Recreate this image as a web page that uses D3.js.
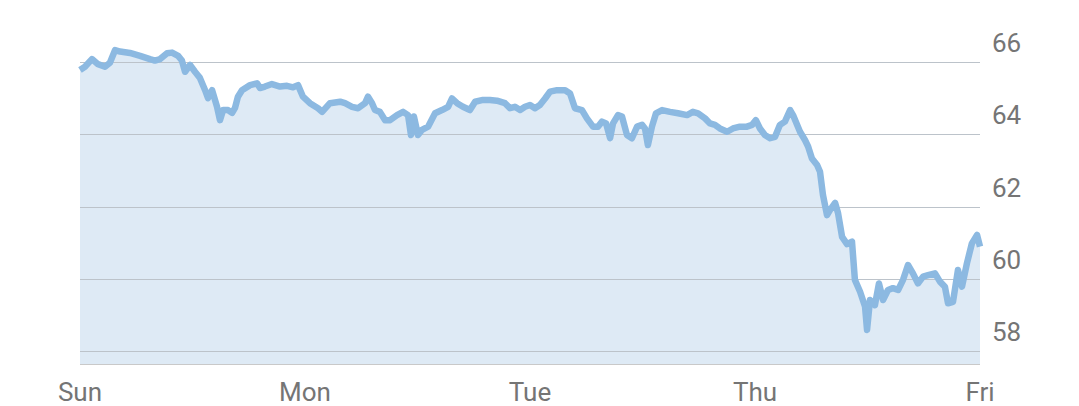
<!DOCTYPE html>
<html>
<head>
<meta charset="utf-8">
<script src="https://cdn.jsdelivr.net/npm/d3@7"></script>
<style>
  html, body { margin: 0; padding: 0; background: #fff; }
  svg { display: block; font-family: Roboto, "Noto Sans", sans-serif; }
</style>
</head>
<body>
<svg id="chart" width="1079" height="406"></svg>
<script>
// Time in days since Sunday open (0 = Sun, 4 = Fri)
const times = [0,0.022,0.053,0.08,0.111,0.133,0.156,0.178,0.222,0.267,0.311,0.333,0.356,0.387,0.409,0.436,0.453,0.467,0.489,0.511,0.533,0.556,0.569,0.587,0.609,0.622,0.636,0.658,0.676,0.689,0.702,0.72,0.756,0.787,0.8,0.822,0.853,0.889,0.92,0.947,0.969,0.991,1.022,1.058,1.076,1.111,1.156,1.178,1.209,1.236,1.267,1.28,1.298,1.311,1.333,1.356,1.378,1.409,1.436,1.458,1.471,1.484,1.502,1.52,1.547,1.578,1.609,1.636,1.653,1.676,1.702,1.733,1.756,1.791,1.822,1.853,1.889,1.911,1.933,1.956,1.978,2.0,2.022,2.044,2.067,2.089,2.12,2.156,2.178,2.2,2.231,2.253,2.28,2.302,2.32,2.338,2.356,2.369,2.391,2.409,2.431,2.453,2.476,2.498,2.511,2.524,2.542,2.56,2.587,2.622,2.658,2.698,2.724,2.747,2.778,2.8,2.822,2.844,2.876,2.902,2.933,2.964,2.987,3.004,3.022,3.044,3.067,3.089,3.111,3.133,3.156,3.169,3.187,3.2,3.222,3.236,3.253,3.276,3.289,3.302,3.32,3.333,3.356,3.369,3.387,3.409,3.431,3.444,3.467,3.489,3.498,3.511,3.533,3.551,3.569,3.591,3.613,3.636,3.658,3.68,3.702,3.724,3.747,3.769,3.8,3.822,3.844,3.858,3.88,3.902,3.92,3.942,3.964,3.987,4.0];
const prices = [65.78,65.87,66.08,65.94,65.87,65.98,66.33,66.29,66.25,66.17,66.08,66.04,66.08,66.24,66.26,66.17,66.04,65.73,65.92,65.73,65.56,65.22,65.0,65.22,64.76,64.39,64.67,64.67,64.59,64.73,65.04,65.22,65.36,65.41,65.28,65.32,65.39,65.32,65.34,65.3,65.36,65.04,64.86,64.72,64.62,64.86,64.9,64.86,64.76,64.72,64.86,65.04,64.86,64.67,64.62,64.39,64.39,64.53,64.62,64.53,63.98,64.49,63.98,64.12,64.21,64.58,64.67,64.76,64.99,64.86,64.76,64.67,64.9,64.95,64.95,64.93,64.86,64.72,64.76,64.67,64.76,64.81,64.72,64.81,64.99,65.18,65.22,65.22,65.13,64.72,64.67,64.44,64.21,64.21,64.35,64.3,63.89,64.3,64.53,64.49,63.98,63.89,64.21,64.26,64.16,63.7,64.21,64.58,64.67,64.62,64.58,64.53,64.62,64.58,64.44,64.3,64.26,64.16,64.07,64.16,64.21,64.21,64.26,64.39,64.16,63.98,63.89,63.93,64.26,64.35,64.67,64.53,64.26,64.07,63.84,63.66,63.33,63.15,62.96,62.32,61.76,61.9,62.1,61.82,61.16,60.96,61.03,59.97,59.64,59.23,58.58,59.41,59.27,59.87,59.41,59.69,59.74,59.69,59.97,60.38,60.15,59.87,60.06,60.1,60.15,59.92,59.78,59.32,59.36,60.24,59.78,60.43,60.98,61.21,60.89];
const dayTicks = [0, 1, 2, 3, 4];
const dayLabels = ["Sun", "Mon", "Tue", "Thu", "Fri"];
const priceTicks = [58, 60, 62, 64, 66];

const data = times.map((t, i) => ({ t, v: prices[i] }));

const svg = d3.select("#chart");
const x = d3.scaleLinear().domain([0, 4]).range([80, 980]);
const y = d3.scaleLinear().domain([58, 66]).range([351, 62]);
const bottom = 364;

// gridlines
svg.append("g").selectAll("line").data(priceTicks).join("line")
  .attr("x1", 80).attr("x2", 980)
  .attr("y1", d => Math.round(y(d)) + 0.5).attr("y2", d => Math.round(y(d)) + 0.5)
  .attr("stroke", "#c9c9c9").attr("stroke-width", 1);

// area
const area = d3.area().x(d => x(d.t)).y0(bottom).y1(d => y(d.v));
svg.append("path").datum(data).attr("d", area).attr("fill", "#deeaf5");

// gridlines over area
svg.append("g").selectAll("line").data(priceTicks).join("line")
  .attr("x1", 80).attr("x2", 980)
  .attr("y1", d => Math.round(y(d)) + 0.5).attr("y2", d => Math.round(y(d)) + 0.5)
  .attr("stroke", "#bcc3ca").attr("stroke-width", 1);

// baseline
svg.append("line").attr("x1", 80).attr("x2", 980)
  .attr("y1", bottom + 0.5).attr("y2", bottom + 0.5)
  .attr("stroke", "#c9c9c9").attr("stroke-width", 1);

// line
const line = d3.line().x(d => x(d.t)).y(d => y(d.v));
svg.append("path").datum(data).attr("d", line)
  .attr("fill", "none").attr("stroke", "#8cb9e1")
  .attr("stroke-width", 6.5).attr("stroke-linejoin", "round").attr("stroke-linecap", "butt");

// y labels
svg.append("g").selectAll("text").data(priceTicks).join("text")
  .attr("x", 992).attr("y", d => y(d) - 10)
  .attr("font-size", 26).attr("fill", "#757575")
  .text(d => d);

// x labels
svg.append("g").selectAll("text").data(dayTicks).join("text")
  .attr("x", d => x(d)).attr("y", 401)
  .attr("text-anchor", "middle")
  .attr("font-size", 26).attr("fill", "#757575")
  .text((d, i) => dayLabels[i]);
</script>
</body>
</html>
